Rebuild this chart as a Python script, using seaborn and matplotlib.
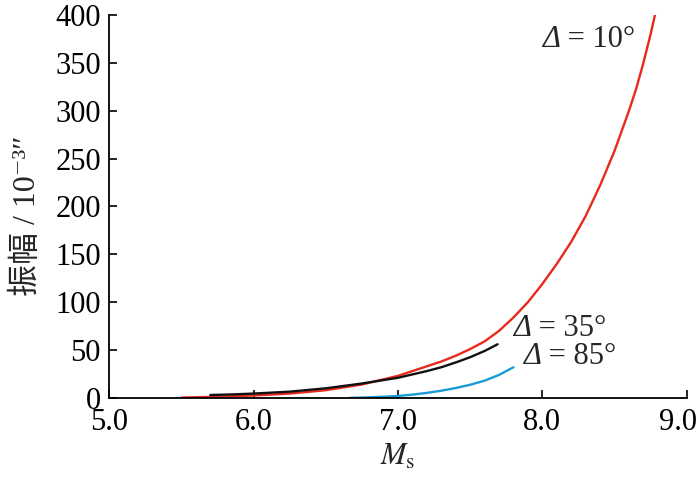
import pandas as pd
import matplotlib
matplotlib.use("Agg")
import matplotlib.pyplot as plt
import matplotlib.transforms as mtransforms
import seaborn as sns

# magnitude vs amplitude
ms_10 = [5.5, 5.75, 6.0, 6.25, 6.5, 6.75, 7.0, 7.1, 7.2, 7.3, 7.4, 7.5, 7.6, 7.7, 7.8, 7.9,
         8.0, 8.1, 8.2, 8.3, 8.4, 8.5, 8.6, 8.65, 8.7, 8.75, 8.78]
amp_10 = [0.3, 1.2, 2.5, 4.5, 8, 14, 23, 28, 33, 38, 44, 51, 59, 70, 84, 100,
          119, 140, 163, 190, 222, 258, 300, 323, 350, 380, 400]

ms_35 = [5.7, 5.85, 6.0, 6.25, 6.5, 6.75, 7.0, 7.1, 7.2, 7.3, 7.4, 7.5, 7.6, 7.69]
amp_35 = [3, 3.6, 4.5, 6.5, 10, 15, 21, 24.5, 28, 32, 37, 42.5, 49, 56]

ms_85 = [6.67, 6.8, 6.9, 7.0, 7.1, 7.2, 7.3, 7.4, 7.5, 7.6, 7.7, 7.8]
amp_85 = [0, 0.6, 1.2, 2, 3.4, 5.2, 7.5, 10.3, 13.7, 18, 24, 32]

labels = ["10", "35", "85"]
label_x = [8.0, 7.80, 7.865]
label_y = [374, 73, 43]

df = pd.concat([
    pd.DataFrame({"Ms": ms_10, "amp": amp_10, "delta": "10"}),
    pd.DataFrame({"Ms": ms_35, "amp": amp_35, "delta": "35"}),
    pd.DataFrame({"Ms": ms_85, "amp": amp_85, "delta": "85"}),
])

sns.set_style("ticks")
plt.rcParams["font.family"] = ["Liberation Serif", "Noto Sans CJK SC", "DejaVu Serif"]
plt.rcParams["mathtext.fontset"] = "stix"

fig = plt.figure(figsize=(7, 4.87), dpi=100)
ax = fig.add_axes([0.156, 0.183, 0.825, 0.786])

sns.lineplot(data=df, x="Ms", y="amp", hue="delta", hue_order=labels,
             palette=["#e8291c", "#111111", "#1a9bd7"], linewidth=1.7,
             legend=False, ax=ax, sort=False)

ax.set_xlim(5, 9)
ax.set_ylim(0, 400)
ax.set_xticks([5, 6, 7, 8, 9])
ax.set_xticklabels(["5.0", "6.0", "7.0", "8.0", "9.0"])
ax.set_yticks(range(0, 401, 50))
ax.tick_params(direction="in", length=6, width=1.2, labelsize=22, colors="black")
ax.tick_params(axis="x", pad=7)
ax.tick_params(axis="y", pad=6)
for s in ["left", "bottom"]:
    ax.spines[s].set_linewidth(1.3)
    ax.spines[s].set_color("black")
sns.despine(ax=ax)

# keep the last x label inside the figure, as in the reference
last = ax.get_xticklabels()[-1]
last.set_transform(last.get_transform() + mtransforms.ScaledTranslation(-9 / 100, 0, fig.dpi_scale_trans))

ax.set_xlabel(r"$M_{\rm s}$", fontsize=22, labelpad=4)
ax.set_ylabel("振幅 / 10⁻³″", fontsize=23)
ax.yaxis.set_label_coords(-0.116, 0.475)

# italic delta followed by upright "= xx°"
for lab, x, y in zip(labels, label_x, label_y):
    t = ax.text(x, y, "Δ", fontsize=22, style="italic", ha="left", va="center")
    ax.annotate(" = " + lab + "°", xy=(1, 0), xycoords=t, fontsize=22,
                ha="left", va="bottom")

fig.savefig("out.png", dpi=100)
